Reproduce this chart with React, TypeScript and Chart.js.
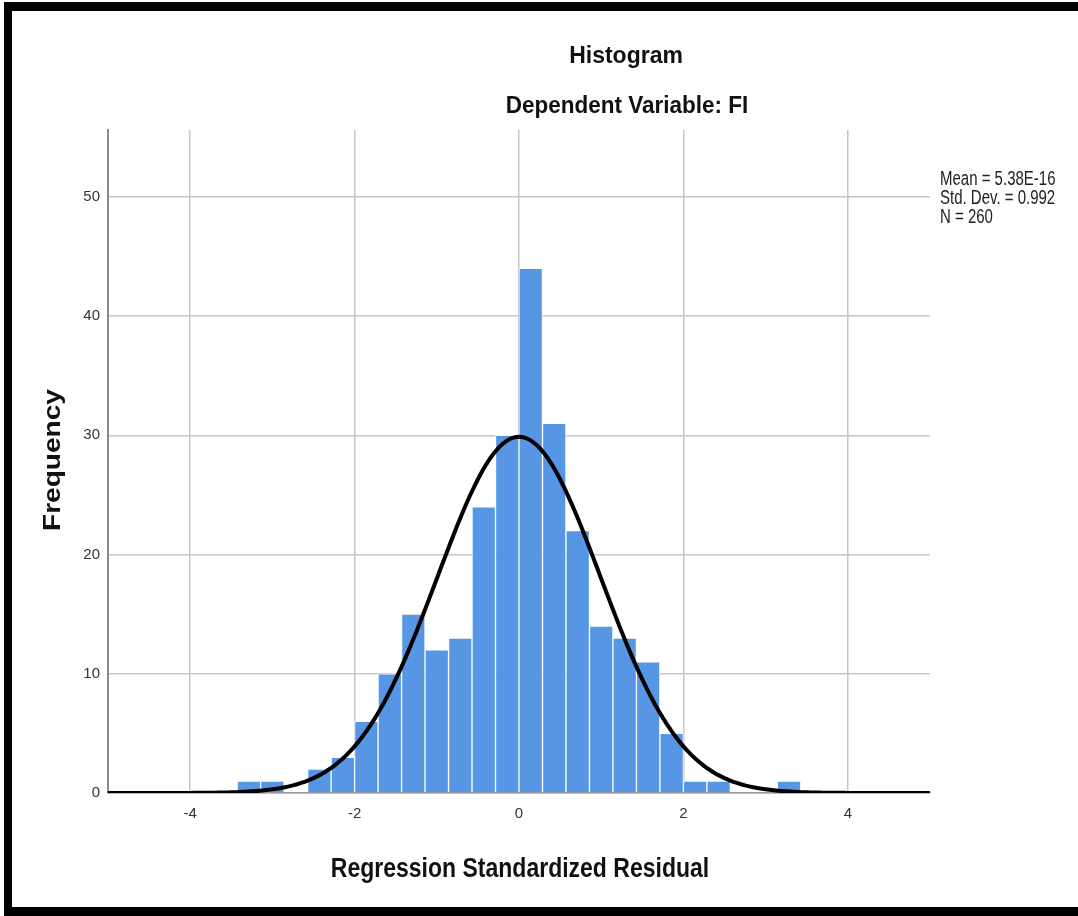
import React, { useEffect, useRef } from "react";
import { Chart, registerables } from "chart.js";

Chart.register(...registerables);

// ---- data ----
const binWidth = 2 / 7;
const firstBinIndex = -12; // first bin starts at -12 * binWidth
const frequencies = [1, 1, 0, 2, 3, 6, 10, 15, 12, 13, 24, 30, 44, 31, 22, 14, 13, 11, 5, 1, 1, 0, 0, 1];
const statsMean = 5.38e-16;
const statsStdDev = 0.992;
const statsN = 260;
const statsLines = ["Mean = 5.38E-16", "Std. Dev. = 0.992", "N = 260"];
const xTickValues = [-4, -2, 0, 2, 4];
const yTickValues = [0, 10, 20, 30, 40, 50];
const xRange = [-5, 5];
const yRange = [0, 55.6];
const titleLines = ["Histogram", "Dependent Variable: FI"];
const xAxisTitle = "Regression Standardized Residual";
const yAxisTitle = "Frequency";

const binCenters = frequencies.map((_, i) => (firstBinIndex + i + 0.5) * binWidth);
const histPoints = frequencies.map((f, i) => ({ x: binCenters[i], y: f }));

// fitted normal curve defined by the displayed statistics
const curveXs: number[] = [];
for (let k = 0; k <= 200; k++) curveXs.push(xRange[0] + (k * (xRange[1] - xRange[0])) / 200);
const curvePoints = curveXs.map((x) => ({
  x,
  y:
    (statsN * binWidth * Math.exp(-0.5 * Math.pow((x - statsMean) / statsStdDev, 2))) /
    (statsStdDev * Math.sqrt(2 * Math.PI)),
}));

const FONT = '"Liberation Sans", Arial, Helvetica, sans-serif';

function drawText(
  ctx: CanvasRenderingContext2D,
  text: string,
  x: number,
  y: number,
  font: string,
  align: CanvasTextAlign,
  sx: number,
  sy: number,
  color: string,
  rotate = 0
) {
  ctx.save();
  ctx.translate(x, y);
  if (rotate) ctx.rotate(rotate);
  ctx.scale(sx, sy);
  ctx.font = font;
  ctx.fillStyle = color;
  ctx.textAlign = align;
  ctx.textBaseline = "alphabetic";
  ctx.fillText(text, 0, 0);
  ctx.restore();
}

const decorPlugin = {
  id: "spssDecor",
  afterDraw(chart: any) {
    const ctx: CanvasRenderingContext2D = chart.ctx;
    const W = chart.width;
    const H = chart.height;
    ctx.save();
    // outer frame (top, left, bottom)
    ctx.fillStyle = "#000";
    ctx.fillRect(4, 2, W - 4, 9);
    ctx.fillRect(4, 2, 8, H - 2);
    ctx.fillRect(4, 907, W - 4, H - 907);
    ctx.restore();

    drawText(ctx, titleLines[0], 626, 63, `bold 23px ${FONT}`, "center", 1, 1.08, "#111");
    drawText(ctx, titleLines[1], 627, 113, `bold 22.5px ${FONT}`, "center", 1, 1.1, "#111");
    drawText(ctx, xAxisTitle, 520, 877, `bold 23px ${FONT}`, "center", 1, 1.22, "#111");
    drawText(ctx, yAxisTitle, 60, 460, `bold 23px ${FONT}`, "center", 1.22, 1, "#111", -Math.PI / 2);
    const baselines = [185, 204, 223];
    statsLines.forEach((line, i) => {
      drawText(ctx, line, 940, baselines[i], `15px ${FONT}`, "left", 1, 1.3, "#222");
    });
  },
};

export default function App() {
  const canvasRef = useRef<HTMLCanvasElement | null>(null);

  useEffect(() => {
    if (!canvasRef.current) return;
    const chart = new Chart(canvasRef.current, {
      type: "bar",
      data: {
        datasets: [
          {
            type: "line",
            data: curvePoints,
            borderColor: "#000",
            borderWidth: 4,
            pointRadius: 0,
            tension: 0,
            fill: false,
            order: 0,
          } as any,
          {
            type: "bar",
            data: histPoints,
            backgroundColor: "#5696e4",
            borderColor: "rgba(255,255,255,0.85)",
            borderWidth: 1,
            barPercentage: 1,
            categoryPercentage: 1,
            order: 1,
          } as any,
        ],
      },
      options: {
        responsive: false,
        animation: false,
        events: [],
        layout: { padding: { left: 0, top: 130, right: 148, bottom: 0 } },
        plugins: {
          legend: { display: false },
          tooltip: { enabled: false },
          title: { display: false },
        },
        scales: {
          x: {
            type: "linear",
            min: xRange[0],
            max: xRange[1],
            offset: false,
            afterBuildTicks: (scale: any) => {
              scale.ticks = xTickValues.map((v) => ({ value: v }));
            },
            afterFit: (scale: any) => {
              scale.height = 123;
            },
            grid: { color: "#c6c6c6", lineWidth: 1.5, drawTicks: false, offset: false },
            border: { display: true, color: "#9a9a9a", width: 1.5 },
            ticks: {
              padding: 12,
              font: { family: FONT, size: 15 },
              color: "#333",
              maxRotation: 0,
            },
          },
          y: {
            type: "linear",
            min: yRange[0],
            max: yRange[1],
            afterBuildTicks: (scale: any) => {
              scale.ticks = yTickValues.map((v) => ({ value: v }));
            },
            afterFit: (scale: any) => {
              scale.width = 108;
            },
            grid: { color: "#c6c6c6", lineWidth: 1.5, drawTicks: false },
            border: { display: true, color: "#8a8a8a", width: 2 },
            ticks: {
              padding: 8,
              font: { family: FONT, size: 15 },
              color: "#333",
            },
          },
        },
      },
      plugins: [decorPlugin],
    } as any);
    return () => chart.destroy();
  }, []);

  return (
    <div
      style={{
        position: "absolute",
        left: 0,
        top: 0,
        width: 1078,
        height: 916,
        background: "#fff",
      }}
    >
      <canvas ref={canvasRef} width={1078} height={916} style={{ display: "block" }} />
    </div>
  );
}
